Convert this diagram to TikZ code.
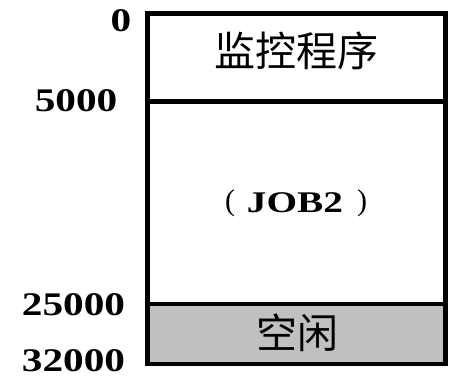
\documentclass[tikz,border=0pt]{standalone}
\usepackage{fontspec}
\setmainfont{Liberation Serif}
\newfontfamily\cjk{Noto Sans CJK SC}
\definecolor{freegray}{HTML}{C0C0C0}
\tikzset{
  addr/.style={font=\fontsize{33}{33}\selectfont\bfseries, xscale=1.25, inner sep=0pt, anchor=base},
  cjklabel/.style={font=\cjk\fontsize{41}{41}\selectfont, inner sep=0pt},
  jobtext/.style={font=\fontsize{30}{30}\selectfont\bfseries, xscale=1.31, inner sep=0pt},
  paren/.style={font=\fontsize{30}{30}\selectfont, inner sep=0pt},
  box/.style={line width=4.5pt, line join=miter}
}
\begin{document}
\begin{tikzpicture}[x=1pt,y=-1pt]
\useasboundingbox (0,0) rectangle (454,378);
% regions
\fill[freegray] (147.5,304) rectangle (445.5,364);
\draw[box] (147.5,13.5) rectangle (445.5,364);
\draw[box] (147.5,101.5) -- (445.5,101.5);
\draw[box] (147.5,304) -- (445.5,304);
% contents
\node[cjklabel] (mon) at (296,51) {监控程序};
\node[jobtext] (job) at (295,203) {JOB2};
\node[paren] (lp) at (230,203) {(};
\node[paren] (rp) at (362,203) {)};
\node[cjklabel] (free) at (297,333) {空闲};
% addresses
\node[addr] (a0) at (121,31) {0};
\node[addr] (a1) at (76,111) {5000};
\node[addr] (a2) at (73.5,315) {25000};
\node[addr] (a3) at (73.5,371) {32000};
\end{tikzpicture}
\end{document}
